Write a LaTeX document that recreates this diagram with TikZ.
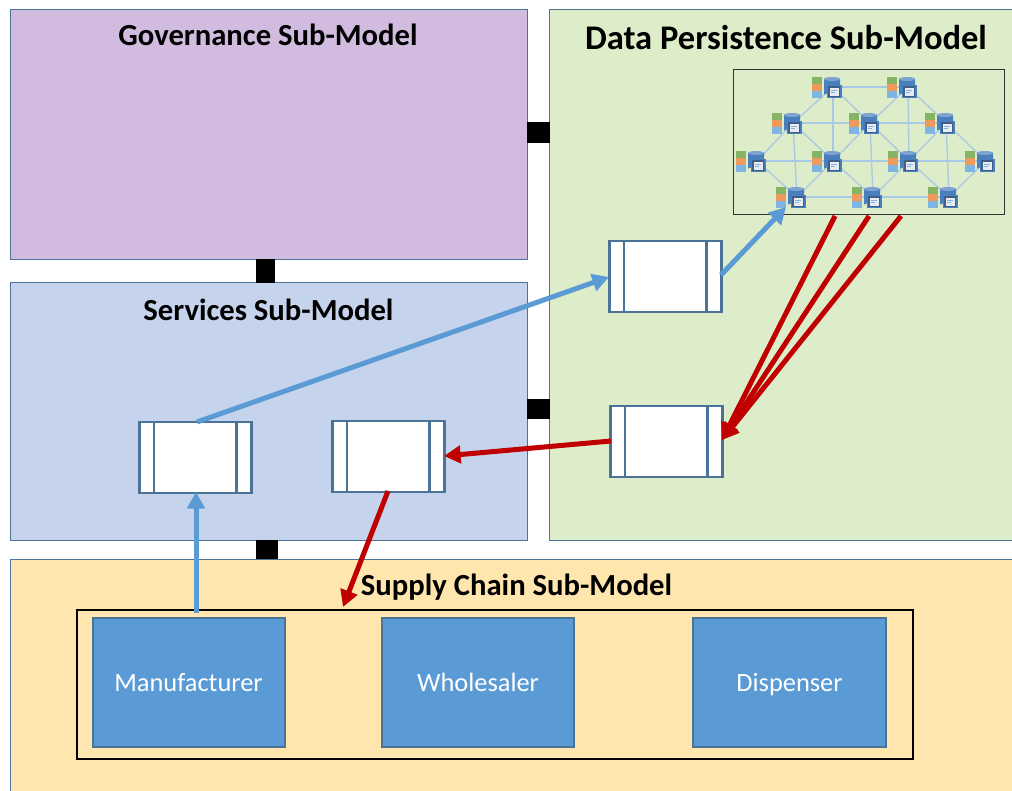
\documentclass[tikz,border=0pt]{standalone}
\usepackage{fontspec}
\setmainfont{Carlito}
\usetikzlibrary{arrows.meta}
\definecolor{govfill}{HTML}{D1BCE0}
\definecolor{datafill}{HTML}{DEEDC9}
\definecolor{svcfill}{HTML}{C5D3EC}
\definecolor{supfill}{HTML}{FEE6AE}
\definecolor{panelline}{HTML}{4A7397}
\definecolor{actor}{HTML}{5B9BD5}
\definecolor{flowred}{HTML}{C00000}
\definecolor{meshline}{HTML}{A9C8E4}
\definecolor{dbblue}{HTML}{4A7FBE}
\definecolor{dbtop}{HTML}{7FA3D0}
\definecolor{dbframe}{HTML}{3F5F88}
\definecolor{dbpage}{HTML}{E8ECF2}
\definecolor{stackgreen}{HTML}{86B465}
\definecolor{stackorange}{HTML}{EE9A5C}
\definecolor{stackblue}{HTML}{7FB5E2}
\tikzset{
  x=0.75pt,y=-0.75pt,
  panel/.style={draw=panelline,line width=0.75pt},
  link/.style={fill=black,draw=none},
  proc/.style={draw=panelline,fill=white,line width=1.6pt},
  actorbox/.style={draw=panelline,fill=actor,line width=1.2pt,inner sep=0pt},
  actorlabel/.style={text=white,font=\fontsize{19.8}{22}\selectfont,inner sep=0pt,anchor=base},
  ttl/.style={font=\fontsize{23}{26}\selectfont\bfseries,text=black,inner sep=0pt,anchor=base},
  bigttl/.style={font=\fontsize{25.9}{28}\selectfont\bfseries,text=black,inner sep=0pt,anchor=base},
  blueflow/.style={draw=actor,line width=3.75pt,-{Triangle[length=12.5pt,width=13pt]}},
  redflow/.style={draw=flowred,line width=3.75pt,-{Triangle[length=12.5pt,width=13pt]}},
  mesh/.style={draw=meshline,line width=1pt},
}
\newcommand{\procbox}[5]{% name, x0,y0,x1,y1
  \node[proc,outer sep=0pt,minimum width=84pt,minimum height=53pt,inner sep=0pt,anchor=north west] (#1) at (#2,#3) {};
  \draw[proc] (#2+14.5,#3) -- (#2+14.5,#5);
  \draw[proc] (#4-15,#3) -- (#4-15,#5);
}
\newcommand{\dbicon}[1]{%
  \begin{scope}[shift={(#1)}]
    \fill[stackgreen] (-21,-10) rectangle (-11,-3.3);
    \fill[stackorange] (-21,-3.3) rectangle (-11,4);
    \fill[stackblue] (-21,4) rectangle (-11,11);
    \fill[dbblue] (-9,-8) -- (-9,8) arc[start angle=180,end angle=360,x radius=8,y radius=2] -- (7,-8) -- cycle;
    \fill[dbtop] (-1,-8) ellipse[x radius=8,y radius=2];
    \fill[dbblue] (-6,-2) rectangle (9,11);
    \fill[dbpage,draw=dbframe,line width=0.9pt] (-4,0) rectangle (6.5,9.5);
    \draw[stackblue,line width=0.5pt] (-2,3) -- (4,3) (-2,5) -- (2,5);
  \end{scope}}
\begin{document}
\begin{tikzpicture}
\useasboundingbox (0,0) rectangle (1012,791);
\fill[white] (0,0) rectangle (1012,791);
% panels
\draw[panel,fill=govfill] (10.5,10) rectangle (527,259.5);
\draw[panel,fill=datafill] (549.5,10) rectangle (1014,540);
\draw[panel,fill=svcfill] (10.5,283) rectangle (527,540);
\draw[panel,fill=supfill] (10.5,559) rectangle (1014,793);
% links
\fill[link] (527,122) rectangle (550,143);
\fill[link] (256,259) rectangle (275,283);
\fill[link] (527,399) rectangle (550,419);
\fill[link] (256,540) rectangle (278,559);
% titles
\node[ttl] (tgov) at (268,46) {Governance Sub-Model};
\node[bigttl] (tdata) at (786,50) {Data Persistence Sub-Model};
\node[ttl] (tsvc) at (268.5,320) {Services Sub-Model};
\node[ttl] (tsup) at (516.5,595) {Supply Chain Sub-Model};
% peer network frame
\node[draw=black!80,line width=0.75pt,inner sep=0pt,minimum width=203.25pt,minimum height=108.75pt,anchor=north west] (net) at (733,69.5) {};
% peers
\foreach \n/\px/\py in {a/833/87,b/908/87,c/793/123,d/870/123,e/946/123,f/757/161,g/833/161,h/909/161,i/986/161,j/797/197,k/873/197,l/949/197}
  \coordinate (\n) at (\px,\py);
\foreach \p/\q in {a/b,a/c,a/d,a/g,b/d,b/e,b/h,c/d,d/e,c/f,c/g,c/j,d/g,d/h,d/k,e/h,e/i,e/l,f/g,g/h,h/i,f/j,g/j,g/k,h/k,h/l,i/l,j/k,k/l}
  \draw[mesh] (\p) -- (\q);
\foreach \n in {a,b,c,d,e,f,g,h,i,j,k,l}
  \dbicon{\n};
% process boxes
\procbox{pa}{609.5}{241}{721.5}{312}
\procbox{pb}{610.5}{406}{722.5}{476}
\procbox{pc}{139.5}{422}{251.5}{492}
\procbox{pd}{332.5}{421}{444.5}{491}
% supply chain
\node[draw=black,line width=1.5pt,inner sep=0pt,minimum width=627pt,minimum height=111.75pt,anchor=north west] (chain) at (76,609) {};
\node[actorbox,minimum width=144pt,minimum height=96.75pt,anchor=north west] (man) at (92,617) {};
\node[actorbox,minimum width=144pt,minimum height=96.75pt,anchor=north west] (whole) at (381,617) {};
\node[actorbox,minimum width=144.75pt,minimum height=96.75pt,anchor=north west] (disp) at (692,617) {};
\node[actorlabel] (lman) at (188.5,691) {Manufacturer};
\node[actorlabel] (lwhole) at (478,691) {Wholesaler};
\node[actorlabel] (ldisp) at (789.5,691) {Dispenser};
% flows
\coordinate (m1) at (196,613);
\coordinate (c1) at (196,492);
\coordinate (c2) at (197,422);
\coordinate (a1) at (609,277);
\coordinate (a2) at (721,275);
\coordinate (j1) at (786,207);
\coordinate (r1) at (835,216);
\coordinate (r2) at (869,216);
\coordinate (r3) at (901,216);
\coordinate (b1) at (722,440);
\coordinate (b2) at (611,441);
\coordinate (d1) at (444,456);
\coordinate (d2) at (388,491);
\coordinate (s1) at (343,607);
\draw[blueflow] (m1) -- (c1);
\draw[blueflow] (c2) -- (a1);
\draw[blueflow] (a2) -- (j1);
\draw[redflow] (r1) -- (b1);
\draw[redflow] (r2) -- (b1);
\draw[redflow] (r3) -- (b1);
\draw[redflow] (b2) -- (d1);
\draw[redflow] (d2) -- (s1);
\end{tikzpicture}
\end{document}
